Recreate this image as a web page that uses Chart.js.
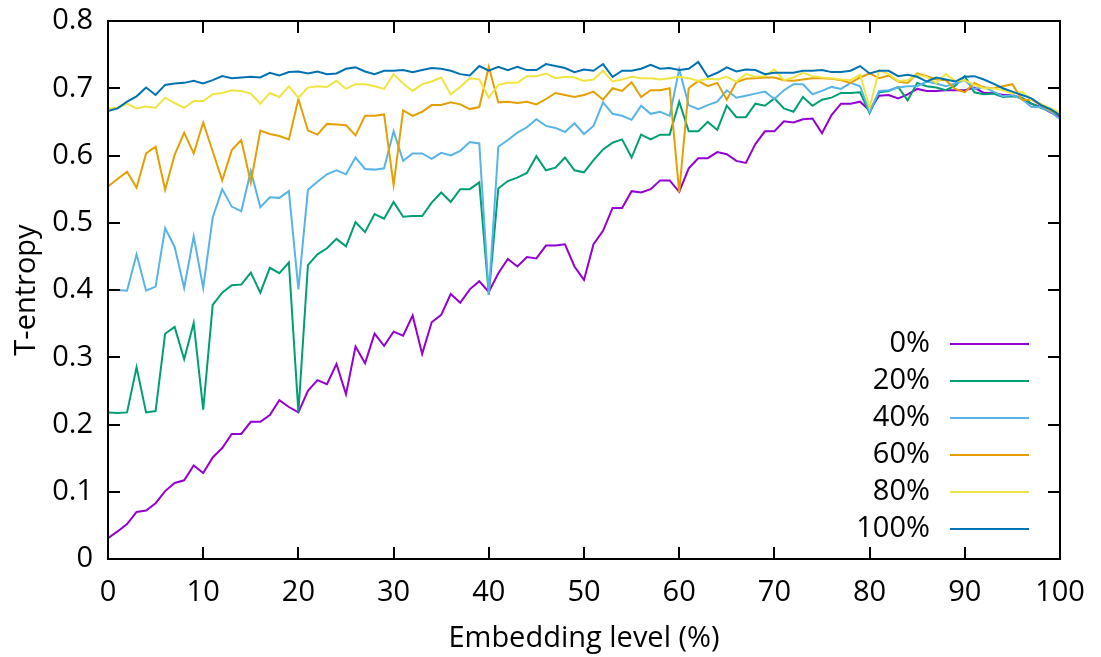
<!DOCTYPE html>
<html>
<head>
<meta charset="utf-8">
<title>T-entropy vs embedding level</title>
<script src="https://cdn.jsdelivr.net/npm/chart.js@4/dist/chart.umd.min.js"></script>
<style>
  html, body { margin: 0; padding: 0; background: #fff; }
  #chart { display: block; }
</style>
</head>
<body>
<canvas id="chart" width="1101" height="657"></canvas>
<script>
// embedding level grid, one sample per percent
const levels = Array.from({ length: 101 }, (_, i) => i);

const seriesNames = ['0%', '20%', '40%', '60%', '80%', '100%'];
const seriesColors = ['#9400d3', '#009e73', '#56b4e9', '#e69f00', '#f0e442', '#0072b2'];

const xTicks = [0, 10, 20, 30, 40, 50, 60, 70, 80, 90, 100];
const xTickLabels = ['0', '10', '20', '30', '40', '50', '60', '70', '80', '90', '100'];
const yTicks = [0, 0.1, 0.2, 0.3, 0.4, 0.5, 0.6, 0.7, 0.8];
const yTickLabels = ['0', '0.1', '0.2', '0.3', '0.4', '0.5', '0.6', '0.7', '0.8'];

const t0 = [
  0.031, 0.041, 0.052, 0.070, 0.072, 0.083, 0.101, 0.113, 0.117, 0.139,
  0.128, 0.151, 0.165, 0.186, 0.186, 0.204, 0.204, 0.214, 0.236, 0.226,
  0.218, 0.250, 0.266, 0.260, 0.290, 0.245, 0.316, 0.291, 0.335, 0.317,
  0.338, 0.332, 0.362, 0.305, 0.352, 0.363, 0.394, 0.381, 0.401, 0.413,
  0.397, 0.425, 0.446, 0.435, 0.449, 0.447, 0.466, 0.466, 0.468, 0.435,
  0.415, 0.468, 0.488, 0.522, 0.522, 0.547, 0.545, 0.550, 0.563, 0.563,
  0.546, 0.581, 0.596, 0.596, 0.605, 0.602, 0.592, 0.589, 0.617, 0.636,
  0.636, 0.651, 0.649, 0.654, 0.655, 0.633, 0.660, 0.677, 0.677, 0.680,
  0.667, 0.689, 0.690, 0.685, 0.691, 0.699, 0.696, 0.696, 0.697, 0.697,
  0.697, 0.701, 0.693, 0.693, 0.690, 0.690, 0.685, 0.677, 0.672, 0.664,
  0.658
];
const t20 = [
  0.218, 0.217, 0.218, 0.285, 0.218, 0.220, 0.335, 0.345, 0.297, 0.351,
  0.222, 0.378, 0.396, 0.407, 0.408, 0.426, 0.396, 0.433, 0.425, 0.441,
  0.218, 0.437, 0.453, 0.462, 0.476, 0.465, 0.501, 0.486, 0.513, 0.506,
  0.531, 0.509, 0.510, 0.510, 0.530, 0.545, 0.531, 0.550, 0.550, 0.560,
  0.393, 0.551, 0.562, 0.567, 0.574, 0.599, 0.578, 0.582, 0.597, 0.578,
  0.575, 0.593, 0.609, 0.619, 0.624, 0.597, 0.631, 0.624, 0.631, 0.631,
  0.680, 0.636, 0.636, 0.650, 0.638, 0.674, 0.657, 0.657, 0.677, 0.674,
  0.685, 0.670, 0.665, 0.687, 0.674, 0.683, 0.686, 0.693, 0.693, 0.694,
  0.663, 0.694, 0.696, 0.702, 0.682, 0.708, 0.703, 0.701, 0.697, 0.704,
  0.718, 0.694, 0.691, 0.692, 0.687, 0.688, 0.686, 0.677, 0.671, 0.666,
  0.660
];
const t40 = [
  0.400, 0.400, 0.399, 0.453, 0.399, 0.405, 0.492, 0.464, 0.403, 0.480,
  0.403, 0.508, 0.550, 0.524, 0.517, 0.577, 0.523, 0.538, 0.537, 0.547,
  0.401, 0.549, 0.561, 0.572, 0.578, 0.572, 0.597, 0.580, 0.579, 0.581,
  0.636, 0.592, 0.603, 0.603, 0.595, 0.604, 0.600, 0.607, 0.620, 0.618,
  0.393, 0.613, 0.623, 0.634, 0.642, 0.654, 0.644, 0.641, 0.635, 0.648,
  0.632, 0.644, 0.679, 0.662, 0.659, 0.653, 0.674, 0.662, 0.665, 0.659,
  0.728, 0.675, 0.669, 0.675, 0.680, 0.697, 0.686, 0.689, 0.692, 0.695,
  0.684, 0.697, 0.706, 0.706, 0.691, 0.696, 0.702, 0.699, 0.708, 0.703,
  0.665, 0.696, 0.697, 0.701, 0.703, 0.703, 0.710, 0.707, 0.703, 0.707,
  0.712, 0.699, 0.702, 0.695, 0.688, 0.690, 0.684, 0.672, 0.672, 0.665,
  0.654
];
const t60 = [
  0.554, 0.565, 0.576, 0.552, 0.603, 0.613, 0.549, 0.601, 0.634, 0.603,
  0.649, 0.606, 0.563, 0.608, 0.623, 0.560, 0.637, 0.632, 0.629, 0.624,
  0.684, 0.637, 0.631, 0.647, 0.646, 0.645, 0.630, 0.659, 0.659, 0.661,
  0.556, 0.667, 0.659, 0.665, 0.675, 0.675, 0.679, 0.676, 0.669, 0.672,
  0.732, 0.679, 0.680, 0.678, 0.680, 0.676, 0.684, 0.693, 0.690, 0.687,
  0.690, 0.695, 0.683, 0.700, 0.696, 0.709, 0.687, 0.697, 0.697, 0.700,
  0.545, 0.700, 0.711, 0.703, 0.708, 0.683, 0.709, 0.714, 0.715, 0.716,
  0.716, 0.712, 0.711, 0.713, 0.715, 0.715, 0.714, 0.712, 0.708, 0.716,
  0.722, 0.715, 0.719, 0.710, 0.708, 0.722, 0.718, 0.713, 0.712, 0.699,
  0.694, 0.708, 0.701, 0.700, 0.703, 0.706, 0.683, 0.683, 0.675, 0.667,
  0.660
];
const t80 = [
  0.670, 0.671, 0.677, 0.670, 0.673, 0.671, 0.686, 0.678, 0.671, 0.681,
  0.681, 0.691, 0.693, 0.697, 0.696, 0.692, 0.677, 0.693, 0.687, 0.703,
  0.686, 0.701, 0.703, 0.702, 0.711, 0.699, 0.706, 0.706, 0.703, 0.699,
  0.721, 0.707, 0.696, 0.706, 0.710, 0.716, 0.691, 0.702, 0.715, 0.713,
  0.686, 0.705, 0.708, 0.708, 0.718, 0.718, 0.722, 0.715, 0.717, 0.716,
  0.711, 0.713, 0.726, 0.710, 0.713, 0.717, 0.715, 0.715, 0.713, 0.715,
  0.717, 0.715, 0.711, 0.714, 0.713, 0.717, 0.710, 0.721, 0.717, 0.718,
  0.728, 0.712, 0.716, 0.723, 0.718, 0.716, 0.715, 0.713, 0.712, 0.720,
  0.671, 0.727, 0.721, 0.711, 0.712, 0.720, 0.717, 0.708, 0.721, 0.711,
  0.712, 0.705, 0.700, 0.700, 0.697, 0.692, 0.695, 0.683, 0.677, 0.670,
  0.664
];
const t100 = [
  0.666, 0.670, 0.680, 0.688, 0.701, 0.690, 0.705, 0.707, 0.708, 0.711,
  0.707, 0.712, 0.718, 0.715, 0.716, 0.717, 0.716, 0.723, 0.719, 0.724,
  0.725, 0.722, 0.725, 0.721, 0.722, 0.729, 0.731, 0.725, 0.721, 0.726,
  0.726, 0.727, 0.724, 0.727, 0.730, 0.729, 0.726, 0.721, 0.719, 0.733,
  0.726, 0.732, 0.727, 0.732, 0.727, 0.727, 0.736, 0.733, 0.730, 0.724,
  0.728, 0.726, 0.736, 0.717, 0.726, 0.726, 0.729, 0.735, 0.729, 0.730,
  0.727, 0.729, 0.739, 0.717, 0.723, 0.731, 0.725, 0.728, 0.727, 0.721,
  0.723, 0.723, 0.723, 0.726, 0.726, 0.727, 0.724, 0.724, 0.726, 0.733,
  0.722, 0.726, 0.726, 0.718, 0.720, 0.717, 0.710, 0.716, 0.713, 0.710,
  0.717, 0.718, 0.713, 0.707, 0.700, 0.695, 0.690, 0.685, 0.675, 0.669,
  0.660
];

const seriesValues = [t0, t20, t40, t60, t80, t100];

const FONT = "'Open Sans', 'Noto Sans', sans-serif";
const FONT_SIZE = 29;
Chart.defaults.font.family = FONT;
Chart.defaults.font.size = FONT_SIZE;
Chart.defaults.color = '#000';

// frame around the plot with inward ticks on all four sides
const framePlugin = {
  id: 'frame',
  afterDatasetsDraw(chart) {
    const { ctx, chartArea: a, scales } = chart;
    const len = 12;
    ctx.save();
    ctx.strokeStyle = '#000';
    ctx.lineWidth = 2;
    ctx.beginPath();
    scales.x.ticks.forEach((t) => {
      const px = Math.round(scales.x.getPixelForValue(t.value));
      ctx.moveTo(px, a.bottom); ctx.lineTo(px, a.bottom - len);
      ctx.moveTo(px, a.top); ctx.lineTo(px, a.top + len);
    });
    scales.y.ticks.forEach((t) => {
      const py = Math.round(scales.y.getPixelForValue(t.value));
      ctx.moveTo(a.left, py); ctx.lineTo(a.left + len, py);
      ctx.moveTo(a.right, py); ctx.lineTo(a.right - len, py);
    });
    ctx.stroke();
    ctx.strokeRect(a.left, a.top, a.right - a.left, a.bottom - a.top);
    ctx.restore();
  },
};

// key in the lower right: label, then a short line sample
const keyPlugin = {
  id: 'key',
  afterDraw(chart) {
    const { ctx, chartArea: a } = chart;
    const n = chart.data.datasets.length;
    ctx.save();
    ctx.font = FONT_SIZE + 'px ' + FONT;
    ctx.textAlign = 'right';
    ctx.textBaseline = 'middle';
    chart.data.datasets.forEach((ds, i) => {
      const y = a.bottom - 30 - (n - 1 - i) * 37;
      ctx.fillStyle = '#000';
      ctx.fillText(ds.label, a.right - 130, y);
      ctx.strokeStyle = ds.borderColor;
      ctx.lineWidth = ds.borderWidth;
      ctx.beginPath();
      ctx.moveTo(a.right - 110, y);
      ctx.lineTo(a.right - 31, y);
      ctx.stroke();
    });
    ctx.restore();
  },
};

new Chart(document.getElementById('chart'), {
  type: 'line',
  data: {
    datasets: seriesNames.map((name, i) => ({
      label: name,
      data: levels.map((x, k) => ({ x, y: seriesValues[i][k] })),
      borderColor: seriesColors[i],
      borderWidth: 2,
      pointRadius: 0,
      tension: 0,
      fill: false,
      order: seriesNames.length - i,
    })),
  },
  options: {
    responsive: false,
    animation: false,
    devicePixelRatio: 1,
    layout: { padding: { top: 21, right: 41, left: 0, bottom: 0 } },
    plugins: {
      legend: { display: false },
      tooltip: { enabled: false },
    },
    scales: {
      x: {
        type: 'linear',
        min: 0,
        max: 100,
        afterBuildTicks: (s) => { s.ticks = xTicks.map((v) => ({ value: v })); },
        afterFit: (s) => {
          s.height = 98;
          s.paddingLeft = 0;
          s.paddingRight = 0;
        },
        grid: { display: false, drawTicks: false },
        border: { display: false },
        ticks: {
          padding: 16,
          maxRotation: 0,
          callback: (v, i) => xTickLabels[i],
        },
        title: {
          display: true,
          text: 'Embedding level (%)',
          padding: { top: 0, bottom: 1 },
        },
      },
      y: {
        type: 'linear',
        min: 0,
        max: 0.8,
        afterBuildTicks: (s) => { s.ticks = yTicks.map((v) => ({ value: v })); },
        afterFit: (s) => {
          s.width = 108;
          s.paddingTop = 0;
          s.paddingBottom = 0;
        },
        grid: { display: false, drawTicks: false },
        border: { display: false },
        ticks: {
          padding: 15,
          callback: (v, i) => yTickLabels[i],
        },
        title: {
          display: true,
          text: 'T-entropy',
          padding: { top: 9, bottom: 0 },
        },
      },
    },
  },
  plugins: [framePlugin, keyPlugin],
});
</script>
</body>
</html>
